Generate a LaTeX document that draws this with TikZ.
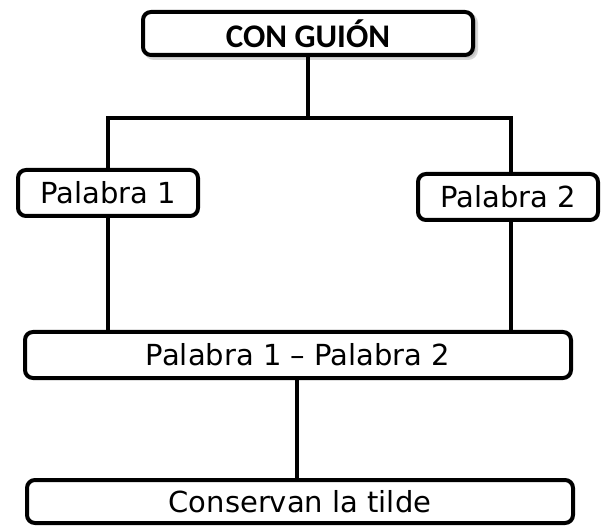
\documentclass[tikz,border=0pt]{standalone}
\usepackage{fontspec}
\setmainfont{DejaVu Sans}
\newfontfamily\titlefont{Carlito}
\usetikzlibrary{shadows}
\tikzset{
  wordbox/.style={draw=black, line width=4pt, rounded corners=8pt, fill=white,
    inner sep=0pt, font=\fontsize{29}{33}\selectfont, text=black},
  titlebox/.style={wordbox, font=\titlefont\bfseries\fontsize{33}{38}\selectfont,
    drop shadow={shadow xshift=3pt, shadow yshift=-3pt, fill=gray!60, draw=gray!60, line width=4pt}},
  link/.style={draw=black, line width=3.5pt}
}
\begin{document}
\begin{tikzpicture}[x=1pt,y=-1pt]
\useasboundingbox[fill=white] (0,0) rectangle (602,526);
\node[titlebox, minimum width=330pt, minimum height=43pt] (top) at (308,33.5) {CON GUIÓN};
\node[wordbox, minimum width=180pt, minimum height=46pt] (p1) at (108,193) {Palabra 1};
\node[wordbox, minimum width=180pt, minimum height=46pt] (p2) at (508,197) {Palabra 2};
\node[wordbox, minimum width=546pt, minimum height=46pt] (p12) at (298,355) {Palabra 1 – Palabra 2};
\node[wordbox, minimum width=546pt, minimum height=43pt] (bot) at (300,501.5) {Conservan la tilde};
\coordinate (jl) at (108,118);
\coordinate (jr) at (511,118);
\coordinate (mid) at (297,430);
\draw[link] (top.south) -- (top.south |- jl);
\draw[link] (p1.north) -- (jl) -- (jr) -- (jr |- p2.north);
\draw[link] (p1.south) -- (p1.south |- p12.north);
\draw[link] (jr |- p2.south) -- (jr |- p12.north);
\draw[link] (mid |- p12.south) -- (mid |- bot.north);
\end{tikzpicture}
\end{document}
